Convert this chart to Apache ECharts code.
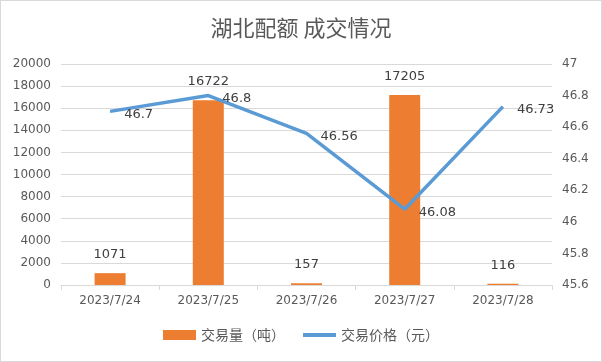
<!DOCTYPE html>
<html><head><meta charset="utf-8">
<script src="https://cdn.jsdelivr.net/npm/echarts@6/dist/echarts.min.js"></script>
<style>html,body{margin:0;padding:0;background:#fff}#c{width:600px;height:360px;border:1px solid #d9d9d9}</style>
</head><body><div id="c"></div>
<script>
var categories = ['2023/7/24','2023/7/25','2023/7/26','2023/7/27','2023/7/28'];
var volume = [1071, 16722, 157, 17205, 116];
var price = [46.7, 46.8, 46.56, 46.08, 46.73];
var chart = echarts.init(document.getElementById('c'));
var font = '"Microsoft YaHei","Noto Sans CJK SC",sans-serif';
var numFont = '"DejaVu Sans", "Liberation Sans", Arial';
chart.setOption({
  animation:false,
  title:{text:'湖北配额 成交情况',left:'center',top:11,textStyle:{fontSize:22,fontWeight:'normal',color:'#595959',fontFamily:font}},
  grid:{left:60,right:49,top:63,bottom:76,containLabel:false},
  legend:{bottom:14,itemGap:18,itemWidth:33,itemHeight:10,textStyle:{fontSize:14,color:'#595959',fontFamily:font},
    data:[{name:'交易量（吨）',icon:'rect'},{name:'交易价格（元）',icon:'path://M0,0h33v4h-33z'}]},
  xAxis:{type:'category',data:categories,axisLine:{lineStyle:{color:'#d9d9d9'}},axisTick:{show:true,lineStyle:{color:'#d9d9d9'},length:5},
    axisLabel:{color:'#595959',fontSize:12,margin:10,fontFamily:numFont}},
  yAxis:[{type:'value',min:0,max:20000,interval:2000,axisLine:{show:false},axisTick:{show:false},
    splitLine:{lineStyle:{color:'#d9d9d9'}},axisLabel:{color:'#595959',fontSize:12,margin:10,fontFamily:numFont,formatter:function(v){return String(v);}}},
   {type:'value',min:45.6,max:47,interval:0.2,axisLine:{show:false},axisTick:{show:false},splitLine:{show:false},
    axisLabel:{color:'#595959',fontSize:12,margin:10,fontFamily:numFont,formatter:function(v){return String(+v.toFixed(1));}}}],
  series:[
   {name:'交易量（吨）',type:'bar',data:volume,barWidth:31,itemStyle:{color:'#ED7D31'},
    label:{show:true,position:'top',distance:12,color:'#404040',fontSize:13,fontFamily:numFont}},
   {name:'交易价格（元）',type:'line',yAxisIndex:1,data:price,symbol:'circle',symbolSize:0.1,showSymbol:true,lineStyle:{width:3.5,color:'#5B9BD5'},itemStyle:{color:'#5B9BD5'},
    label:{show:true,position:'right',distance:14,offset:[0,3],color:'#404040',fontSize:13,fontFamily:numFont}}
  ]
});
</script></body></html>
